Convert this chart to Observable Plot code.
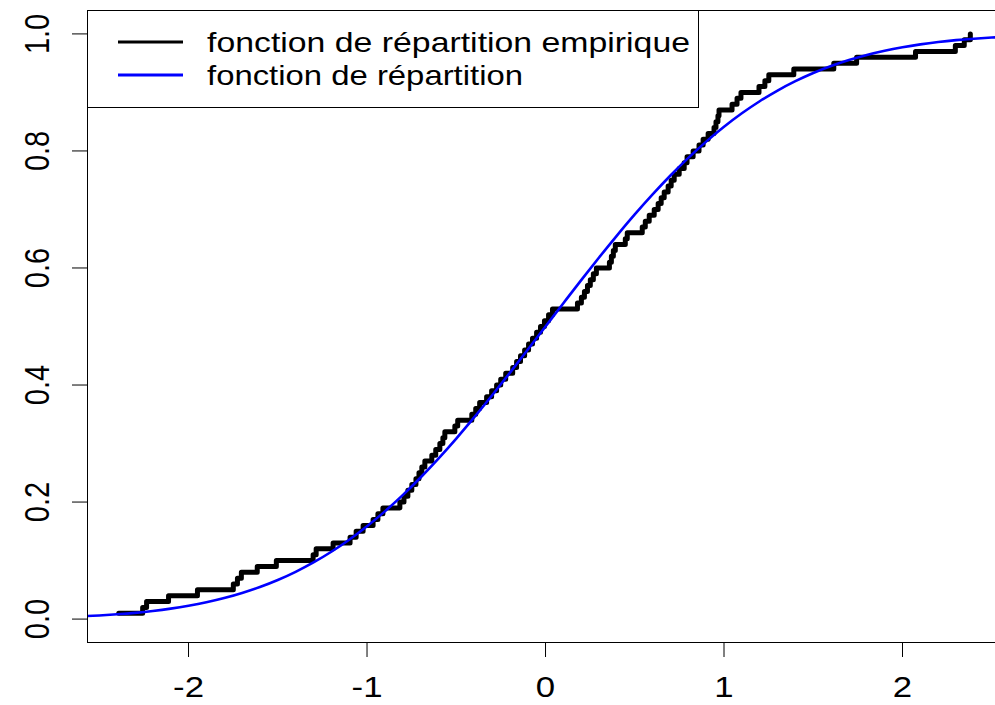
<!DOCTYPE html>
<html><head><meta charset="utf-8">
<script src="https://cdn.jsdelivr.net/npm/d3@7"></script>
<script src="https://cdn.jsdelivr.net/npm/@observablehq/plot@0.6"></script>
<style>
body{margin:0;background:#fff;}
#wrap{position:relative;width:995px;height:705px;overflow:hidden;background:#fff;}
#legend{position:absolute;left:87px;top:10px;}
</style>
</head><body>
<div id="wrap"><div id="chart"></div><svg id="legend" width="612" height="98"></svg></div>
<script>
const ecdfX = [-2.391,-2.257,-2.235,-2.112,-1.950,-1.749,-1.726,-1.704,-1.615,-1.508,
  -1.302,-1.285,-1.190,-1.095,-1.061,-1.022,-0.966,-0.939,-0.911,-0.816,
  -0.793,-0.771,-0.749,-0.726,-0.709,-0.693,-0.676,-0.637,-0.615,-0.592,
  -0.575,-0.564,-0.508,-0.492,-0.413,-0.391,-0.369,-0.330,-0.302,-0.274,
  -0.251,-0.223,-0.184,-0.162,-0.140,-0.117,-0.095,-0.073,-0.050,-0.028,
  -0.006,0.017,0.039,0.179,0.201,0.218,0.235,0.251,0.268,0.285,
  0.358,0.369,0.380,0.391,0.447,0.458,0.542,0.559,0.581,0.609,
  0.631,0.648,0.665,0.687,0.704,0.721,0.749,0.777,0.793,0.827,
  0.860,0.883,0.911,0.944,0.955,0.966,0.972,1.045,1.073,1.095,
  1.196,1.229,1.251,1.391,1.615,1.743,2.073,2.296,2.346,2.380];
const ecdfY = [0.01,0.02,0.03,0.04,0.05,0.06,0.07,0.08,0.09,0.10,
  0.11,0.12,0.13,0.14,0.15,0.16,0.17,0.18,0.19,0.20,
  0.21,0.22,0.23,0.24,0.25,0.26,0.27,0.28,0.29,0.30,
  0.31,0.32,0.33,0.34,0.35,0.36,0.37,0.38,0.39,0.40,
  0.41,0.42,0.43,0.44,0.45,0.46,0.47,0.48,0.49,0.50,
  0.51,0.52,0.53,0.54,0.55,0.56,0.57,0.58,0.59,0.60,
  0.61,0.62,0.63,0.64,0.65,0.66,0.67,0.68,0.69,0.70,
  0.71,0.72,0.73,0.74,0.75,0.76,0.77,0.78,0.79,0.80,
  0.81,0.82,0.83,0.84,0.85,0.86,0.87,0.88,0.89,0.90,
  0.91,0.92,0.93,0.94,0.95,0.96,0.97,0.98,0.99,1.00];
// theoretical CDF curve
const normX = [-2.6,-2.5,-2.4,-2.3,-2.2,-2.1,-2.0,-1.9,-1.8,-1.7,-1.6,-1.5,-1.4,-1.3,-1.2,-1.1,-1.0,
  -0.9,-0.8,-0.7,-0.6,-0.5,-0.4,-0.3,-0.2,-0.1,0.0,0.1,0.2,0.3,0.4,0.5,0.6,0.7,0.8,0.9,
  1.0,1.1,1.2,1.3,1.4,1.5,1.6,1.7,1.8,1.9,2.0,2.1,2.2,2.3,2.4,2.5,2.6];
const normY = [0.0047,0.0062,0.0082,0.0107,0.0139,0.0179,0.0228,0.0287,0.0359,0.0446,0.0548,0.0668,0.0808,0.0968,0.1151,0.1357,0.1587,
  0.1841,0.2119,0.2420,0.2743,0.3085,0.3446,0.3821,0.4207,0.4602,0.5000,0.5398,0.5793,0.6179,0.6554,0.6915,0.7257,0.7580,0.7881,0.8159,
  0.8413,0.8643,0.8849,0.9032,0.9192,0.9332,0.9452,0.9554,0.9641,0.9713,0.9772,0.9821,0.9861,0.9893,0.9918,0.9938,0.9953];
const xTicks = [-2,-1,0,1,2];
const xTickLabels = ["-2","-1","0","1","2"];
const yTicks = [0,0.2,0.4,0.6,0.8,1.0];
const yTickLabels = ["0.0","0.2","0.4","0.6","0.8","1.0"];
const legendLabels = ["fonction de répartition empirique","fonction de répartition"];
const legendColors = ["#000000","#0000ff"];

const ecdf = ecdfX.map((x,i)=>({x, y: ecdfY[i]}));
const norm = normX.map((x,i)=>({x, y: normY[i]}));
const font = "Liberation Sans, Arial, Helvetica, sans-serif";
const stretch = 1.2; // the reference picture is slightly stretched horizontally

const chart = Plot.plot({
  width: 995, height: 705,
  marginLeft: 87, marginRight: 0, marginTop: 10, marginBottom: 63,
  x: {domain: [-2.566, 2.521]},
  y: {domain: [-0.04, 1.04]},
  style: {fontFamily: font, fontSize: "29px", color: "#000", background: "#fff", overflow: "visible"},
  marks: [
    Plot.line(ecdf, {x: "x", y: "y", stroke: "#000", strokeWidth: 5, curve: "step-after", strokeLinejoin: "round", strokeLinecap: "round"}),
    Plot.line(norm, {x: "x", y: "y", stroke: "#0000ff", strokeWidth: 2.6, curve: "monotone-x", clip: true}),
    Plot.frame({anchor: "left", stroke: "#000"}),
    Plot.frame({anchor: "top", stroke: "#000"}),
    Plot.frame({anchor: "bottom", stroke: "#000"}),
    Plot.axisX({ticks: xTicks, tickSize: 15, tickPadding: 19, tickFormat: (d) => xTickLabels[xTicks.indexOf(d)], label: null, stroke: "#000"}),
    Plot.axisY({ticks: yTicks, tickSize: 15, tickPadding: 26, tickRotate: -90, tickFormat: (d) => yTickLabels[yTicks.indexOf(d)], label: null, stroke: "#000"})
  ]
});
document.getElementById("chart").appendChild(chart);

// widen tick labels horizontally around their centre, like the reference
function widen(sel, sx, sy) {
  chart.querySelectorAll(sel).forEach((t) => {
    const bb = t.getBBox();
    const cx = bb.x + bb.width / 2, cy = bb.y + bb.height / 2;
    const tr = t.getAttribute("transform") || "";
    t.setAttribute("transform", `${tr} translate(${cx},${cy}) scale(${sx},${sy}) translate(${-cx},${-cy})`);
  });
}
widen('[aria-label="x-axis tick label"] text', stretch, 1);
widen('[aria-label="y-axis tick label"] text', 1, stretch);

// legend
const lg = d3.select("#legend");
lg.append("rect").attr("x", 0.5).attr("y", 0.5).attr("width", 611).attr("height", 97)
  .attr("fill", "#fff").attr("stroke", "#000").attr("stroke-width", 1);
const legendWidths = [483, 316];
legendLabels.forEach((t, i) => {
  const cy = 32 + i * 33;
  lg.append("line").attr("x1", 31).attr("x2", 96).attr("y1", cy).attr("y2", cy)
    .attr("stroke", legendColors[i]).attr("stroke-width", 3);
  lg.append("text").attr("x", 120).attr("y", cy).attr("dy", "0.36em")
    .attr("font-family", font).attr("font-size", 28).attr("fill", "#000")
    .attr("textLength", legendWidths[i]).attr("lengthAdjust", "spacingAndGlyphs").text(t);
});
</script>
</body></html>
